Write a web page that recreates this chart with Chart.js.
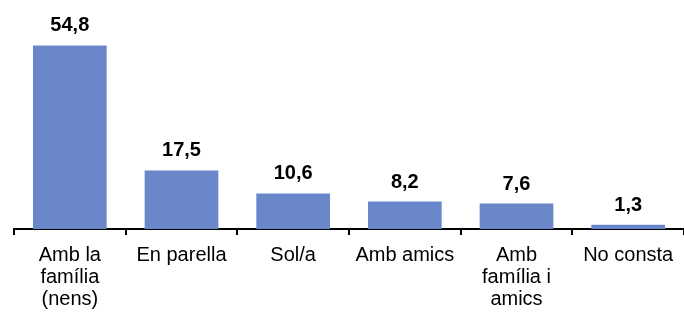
<!DOCTYPE html>
<html>
<head>
<meta charset="utf-8">
<script src="https://cdn.jsdelivr.net/npm/chart.js@4"></script>
<style>
  html, body { margin: 0; padding: 0; background: #fff; }
  #wrap { width: 684px; height: 319px; }
</style>
</head>
<body>
<div id="wrap"><canvas id="barChart"></canvas></div>
<script>
// Data
const categories = [
    ['Amb la', 'família', '(nens)'],
    'En parella',
    'Sol/a',
    'Amb amics',
    ['Amb', 'família i', 'amics'],
    'No consta'
];
const values = [54.8, 17.5, 10.6, 8.2, 7.6, 1.3];

// value labels above bars, with comma decimals
const valueLabels = {
    id: 'valueLabels',
    afterDatasetsDraw(chart) {
        const ctx = chart.ctx;
        const meta = chart.getDatasetMeta(0);
        ctx.save();
        ctx.font = 'bold 20px "Liberation Sans", Arial, sans-serif';
        ctx.fillStyle = '#000';
        ctx.textAlign = 'center';
        ctx.textBaseline = 'alphabetic';
        meta.data.forEach((bar, i) => {
            const txt = values[i].toFixed(1).replace('.', ',');
            ctx.fillText(txt, bar.x, bar.y - 14);
        });
        ctx.restore();
    }
};

const ctx = document.getElementById('barChart').getContext('2d');
new Chart(ctx, {
    type: 'bar',
    data: {
        labels: categories,
        datasets: [{
            data: values,
            backgroundColor: '#6A88C9',
            categoryPercentage: 0.66,
            barPercentage: 1.0
        }]
    },
    options: {
        responsive: true,
        maintainAspectRatio: false,
        animation: false,
        layout: { padding: { left: 14, right: 0, top: 28, bottom: 0 } },
        plugins: {
            legend: { display: false },
            tooltip: { enabled: false }
        },
        scales: {
            y: { display: false, min: 0, max: 60 },
            x: {
                border: { color: '#000', width: 2 },
                grid: {
                    offset: true,
                    drawOnChartArea: false,
                    drawTicks: true,
                    tickLength: 6,
                    color: '#000',
                    lineWidth: 2
                },
                ticks: {
                    color: '#000',
                    padding: 9,
                    autoSkip: false,
                    maxRotation: 0,
                    font: { family: '"Liberation Sans", Arial, sans-serif', size: 20, lineHeight: 1.1 }
                }
            }
        }
    },
    plugins: [valueLabels]
});
</script>
</body>
</html>
